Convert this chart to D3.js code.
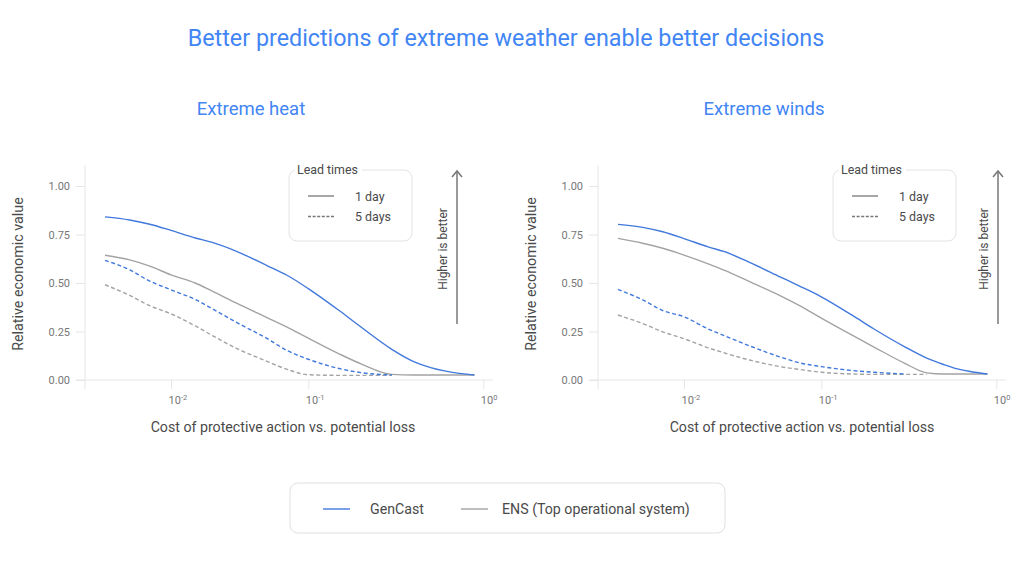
<!DOCTYPE html>
<html>
<head>
<meta charset="utf-8">
<script src="https://cdn.jsdelivr.net/npm/d3@7"></script>
<style>
  html, body { margin: 0; padding: 0; background: #fff; }
  svg { display: block; font-family: Roboto, "Noto Sans", Arial, sans-serif; }
</style>
</head>
<body>
<svg id="chart" width="1024" height="568"></svg>
<script>
// ---------------- data ----------------
const costRatio = [0.0033, 0.005, 0.007, 0.01, 0.015, 0.02, 0.03, 0.05, 0.07, 0.1, 0.15, 0.2, 0.3, 0.4, 0.5, 0.6, 0.75, 0.89];

const heatGenCast1d = [0.841, 0.825, 0.803, 0.771, 0.732, 0.709, 0.663, 0.590, 0.540, 0.471, 0.358, 0.273, 0.158, 0.095, 0.064, 0.047, 0.033, 0.026];
const heatENS1d     = [0.643, 0.619, 0.587, 0.542, 0.500, 0.458, 0.396, 0.322, 0.273, 0.216, 0.135, 0.083, 0.029, 0.026, 0.026, 0.026, 0.026, 0.026];
const heatGenCast5d = [0.617, 0.568, 0.510, 0.465, 0.415, 0.367, 0.297, 0.214, 0.152, 0.107, 0.059, 0.038, 0.026, null, null, null, null, null];
const heatENS5d     = [0.491, 0.436, 0.383, 0.341, 0.279, 0.229, 0.163, 0.096, 0.055, 0.027, 0.024, 0.024, 0.024, null, null, null, null, null];

const windGenCast1d = [0.802, 0.787, 0.764, 0.729, 0.686, 0.660, 0.606, 0.532, 0.483, 0.429, 0.334, 0.263, 0.171, 0.113, 0.080, 0.057, 0.040, 0.031];
const windENS1d     = [0.730, 0.705, 0.679, 0.644, 0.599, 0.564, 0.507, 0.435, 0.382, 0.319, 0.231, 0.170, 0.086, 0.037, 0.031, 0.031, 0.031, 0.031];
const windGenCast5d = [0.467, 0.413, 0.358, 0.326, 0.263, 0.226, 0.176, 0.119, 0.088, 0.069, 0.049, 0.040, 0.031, null, null, null, null, null];
const windENS5d     = [0.335, 0.291, 0.248, 0.213, 0.166, 0.138, 0.103, 0.069, 0.054, 0.040, 0.031, 0.029, 0.029, 0.029, null, null, null, null];

const yTicks = [0, 0.25, 0.5, 0.75, 1.0];
const xTicks = [0.01, 0.1, 1];
const xTickExponents = ["-2", "-1", "0"];

const chartTitle = "Better predictions of extreme weather enable better decisions";
const panelTitles = ["Extreme heat", "Extreme winds"];
const yAxisTitle = "Relative economic value";
const xAxisTitle = "Cost of protective action vs. potential loss";
const leadLegendTitle = "Lead times";
const leadLabels = ["1 day", "5 days"];
const modelLabels = ["GenCast", "ENS (Top operational system)"];
const arrowLabel = "Higher is better";

// ---------------- style ----------------
const BLUE = "#4178dc";
const GRAY = "#a3a3a3";
const TITLE_BLUE = "#4285f4";
const AXIS = "#e6e6e6";
const TEXT = "#4a4a4a";
const TICK_TEXT = "#777";
const DASH = "4,2.6";

const svg = d3.select("#chart");

// main title
svg.append("text")
  .attr("x", 506).attr("y", 46)
  .attr("text-anchor", "middle")
  .attr("font-size", 23.3)
  .attr("fill", TITLE_BLUE)
  .text(chartTitle);

// scales (shared geometry within each panel)
const x = d3.scaleLog()
  .domain([0.00236, 0.01, 0.1, 1, 1.136])
  .range([85, 171, 308.3, 483.3, 493]);
const y = d3.scaleLinear().domain([0, 1]).range([380, 186]);

const panels = [
  { offset: 0, title: panelTitles[0], titleX: 251, xTitleX: 283,
    legendX: 289, arrowX: 457, arrowTextX: 443,
    series: [
      { values: heatENS1d, color: GRAY, dash: null },
      { values: heatENS5d, color: GRAY, dash: DASH },
      { values: heatGenCast5d, color: BLUE, dash: DASH },
      { values: heatGenCast1d, color: BLUE, dash: null }
    ] },
  { offset: 513, title: panelTitles[1], titleX: 251, xTitleX: 289,
    legendX: 320, arrowX: 485, arrowTextX: 471,
    series: [
      { values: windENS1d, color: GRAY, dash: null },
      { values: windENS5d, color: GRAY, dash: DASH },
      { values: windGenCast5d, color: BLUE, dash: DASH },
      { values: windGenCast1d, color: BLUE, dash: null }
    ] }
];

const line = d3.line()
  .defined(d => d[1] != null)
  .x(d => x(d[0]))
  .y(d => y(d[1]))
  .curve(d3.curveMonotoneX);

panels.forEach(p => {
  const g = svg.append("g").attr("transform", `translate(${p.offset},0)`);

  // panel title
  g.append("text")
    .attr("x", p.titleX).attr("y", 114.5)
    .attr("text-anchor", "middle")
    .attr("font-size", 18.5)
    .attr("fill", TITLE_BLUE)
    .text(p.title);

  // y axis
  const yAxis = d3.axisLeft(y).tickValues(yTicks).tickSize(9).tickPadding(6)
    .tickFormat(d3.format(".2f"));
  const yg = g.append("g").attr("transform", `translate(${x.range()[0]},0)`).call(yAxis);
  yg.select(".domain").remove();
  yg.selectAll(".tick line").attr("stroke", AXIS);
  yg.selectAll(".tick text").attr("fill", TICK_TEXT).attr("font-size", 11)
    .attr("font-family", "Roboto, sans-serif");

  // x axis
  const xAxis = d3.axisBottom(x).tickValues(xTicks).tickSize(9).tickFormat(() => "");
  const xg = g.append("g").attr("transform", `translate(0,${y(0)})`).call(xAxis);
  xg.select(".domain").remove();
  xg.selectAll(".tick line").attr("stroke", AXIS);
  xg.selectAll(".tick").each(function(d, i) {
    const t = d3.select(this).append("text")
      .attr("x", -3).attr("y", 24)
      .attr("text-anchor", "start")
      .attr("fill", TICK_TEXT)
      .attr("font-size", 11)
      .attr("font-family", "Roboto, sans-serif");
    t.append("tspan").text("10");
    t.append("tspan").attr("dy", -4).attr("font-size", 7.5).text(xTickExponents[i]);
  });

  // axis lines
  g.append("line")
    .attr("x1", x.range()[0]).attr("x2", x.range()[0])
    .attr("y1", 165).attr("y2", y(0) + 9)
    .attr("stroke", AXIS);
  g.append("line")
    .attr("x1", x.range()[0] - 9).attr("x2", x.range()[x.range().length - 1])
    .attr("y1", y(0)).attr("y2", y(0))
    .attr("stroke", AXIS);

  // axis titles
  g.append("text")
    .attr("transform", `translate(23,274) rotate(-90)`)
    .attr("text-anchor", "middle")
    .attr("font-size", 14.3)
    .attr("fill", TEXT)
    .text(yAxisTitle);
  g.append("text")
    .attr("x", p.xTitleX).attr("y", 432)
    .attr("text-anchor", "middle")
    .attr("font-size", 14.2)
    .attr("fill", TEXT)
    .text(xAxisTitle);

  // lines
  p.series.forEach(s => {
    g.append("path")
      .datum(costRatio.map((c, i) => [c, s.values[i]]))
      .attr("fill", "none")
      .attr("stroke", s.color)
      .attr("stroke-width", 1.4)
      .attr("stroke-dasharray", s.dash)
      .attr("d", line);
  });

  // lead time legend
  const lg = g.append("g").attr("transform", `translate(${p.legendX},170)`);
  lg.append("rect")
    .attr("x", 0).attr("y", 0).attr("width", 123).attr("height", 71)
    .attr("rx", 8).attr("fill", "#fff").attr("stroke", "#e4e4e4");
  lg.append("rect")
    .attr("x", 6).attr("y", -6).attr("width", 67).attr("height", 12).attr("fill", "#fff");
  lg.append("text")
    .attr("x", 8).attr("y", 4)
    .attr("font-size", 12.4).attr("fill", TEXT)
    .text(leadLegendTitle);
  [null, DASH].forEach((dash, i) => {
    const yy = 26 + i * 20.5;
    lg.append("line")
      .attr("x1", 19).attr("x2", 45).attr("y1", yy).attr("y2", yy)
      .attr("stroke", "#777").attr("stroke-width", 1.3)
      .attr("stroke-dasharray", dash ? "3,1.6" : null);
    lg.append("text")
      .attr("x", 66).attr("y", yy + 4.5)
      .attr("font-size", 12.4).attr("fill", TEXT)
      .text(leadLabels[i]);
  });

  // "Higher is better" arrow
  g.append("line")
    .attr("x1", p.arrowX).attr("x2", p.arrowX)
    .attr("y1", 324).attr("y2", 172)
    .attr("stroke", "#777").attr("stroke-width", 1.5);
  g.append("path")
    .attr("d", `M${p.arrowX - 5},${177} L${p.arrowX},${171} L${p.arrowX + 5},${177}`)
    .attr("fill", "none").attr("stroke", "#777").attr("stroke-width", 1.5);
  g.append("text")
    .attr("transform", `translate(${p.arrowTextX + 4},249) rotate(-90)`)
    .attr("text-anchor", "middle")
    .attr("font-size", 12)
    .attr("fill", TEXT)
    .text(arrowLabel);
});

// bottom model legend
const bl = svg.append("g");
bl.append("rect")
  .attr("x", 290).attr("y", 483).attr("width", 435).attr("height", 50)
  .attr("rx", 8).attr("fill", "#fff").attr("stroke", "#e0e0e0");
const modelItems = [
  { label: modelLabels[0], color: BLUE, lx: 323, tx: 370 },
  { label: modelLabels[1], color: GRAY, lx: 461, tx: 502 }
];
modelItems.forEach(m => {
  bl.append("line")
    .attr("x1", m.lx).attr("x2", m.lx + 27).attr("y1", 509).attr("y2", 509)
    .attr("stroke", m.color).attr("stroke-width", 1.4);
  bl.append("text")
    .attr("x", m.tx).attr("y", 514)
    .attr("font-size", 14.2).attr("fill", TEXT)
    .text(m.label);
});
</script>
</body>
</html>
